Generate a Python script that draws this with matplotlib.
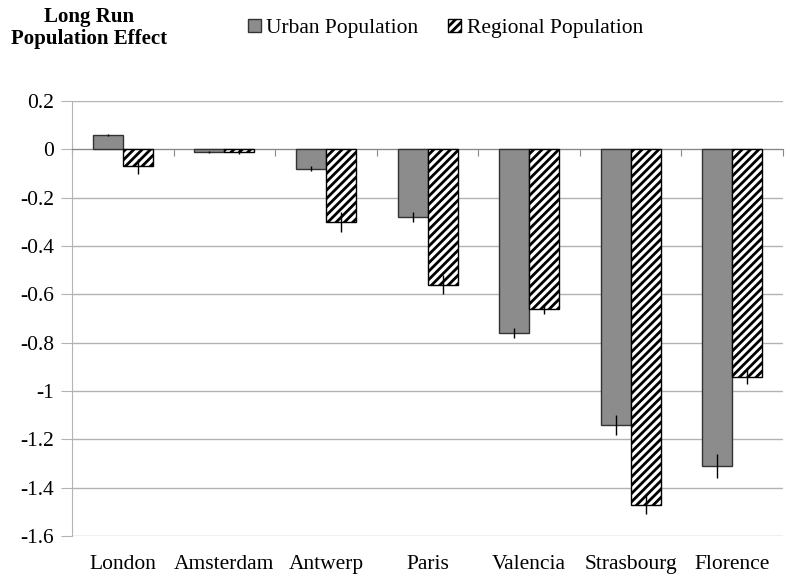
import numpy as np
import matplotlib.pyplot as plt
from matplotlib.patches import Patch

plt.rcParams['font.family'] = ['Liberation Serif', 'DejaVu Serif']
plt.rcParams['hatch.linewidth'] = 2.0

cities = ['London', 'Amsterdam', 'Antwerp', 'Paris', 'Valencia', 'Strasbourg', 'Florence']
urban = [0.06, -0.01, -0.08, -0.28, -0.76, -1.14, -1.31]
urban_err = [0.003, 0.005, 0.01, 0.02, 0.02, 0.04, 0.05]
regional = [-0.07, -0.01, -0.30, -0.56, -0.66, -1.47, -0.94]
regional_err = [0.03, 0.01, 0.04, 0.04, 0.02, 0.04, 0.03]
yticks = [0.2, 0, -0.2, -0.4, -0.6, -0.8, -1, -1.2, -1.4, -1.6]

fig = plt.figure(figsize=(7.87, 5.81), dpi=100)
ax = fig.add_axes([0.0915, 0.0775, 0.9035, 0.7485])

x = np.arange(len(cities))
w = 0.295
grey = '#8c8c8c'
ax.bar(x - w/2, urban, w, color=grey, edgecolor='#333333', linewidth=1, zorder=3)
ax.bar(x + w/2, regional, w, color='white', edgecolor='black', hatch='////', linewidth=1, zorder=3)
ax.errorbar(x - w/2, urban, yerr=urban_err, fmt='none', ecolor='black', elinewidth=1, capsize=0, zorder=4)
ax.errorbar(x + w/2, regional, yerr=regional_err, fmt='none', ecolor='black', elinewidth=1, capsize=0, zorder=4)

ax.set_xlim(-0.5, len(cities) - 0.5)
ax.set_ylim(-1.6, 0.2)
ax.set_yticks(yticks)
ax.set_yticklabels(['%g' % t for t in yticks], fontsize=15.5)
ax.yaxis.grid(True, color='#b3b3b3', linewidth=1, zorder=0)
ax.tick_params(axis='y', length=8, color='#b3b3b3', pad=5)

for s in ['top', 'right']:
    ax.spines[s].set_visible(False)
ax.spines['left'].set_color('#b3b3b3')
ax.spines['bottom'].set_position(('data', 0))
ax.spines['bottom'].set_color('#888888')
ax.set_xticks(np.arange(len(cities) + 1) - 0.5)
ax.set_xticklabels([])
ax.tick_params(axis='x', length=5, color='#888888')

# category names sit below the plot, not on the zero line
for i, c in enumerate(cities):
    ax.text(i, -0.044, c, transform=ax.get_xaxis_transform(), ha='center', va='top', fontsize=15.5)

fig.text(0.113, 0.952, 'Long Run\nPopulation Effect', ha='center', va='center',
         fontsize=15, fontweight='bold', linespacing=1.1)
handles = [Patch(facecolor=grey, edgecolor='#333333', label='Urban Population'),
           Patch(facecolor='white', edgecolor='black', hatch='////', label='Regional Population')]
fig.legend(handles=handles, loc='center', bbox_to_anchor=(0.566, 0.951), ncol=2, frameon=False,
           fontsize=15.5, handlelength=0.6, handleheight=0.6, handletextpad=0.25, columnspacing=1.4)

fig.savefig('out.png', dpi=100)
